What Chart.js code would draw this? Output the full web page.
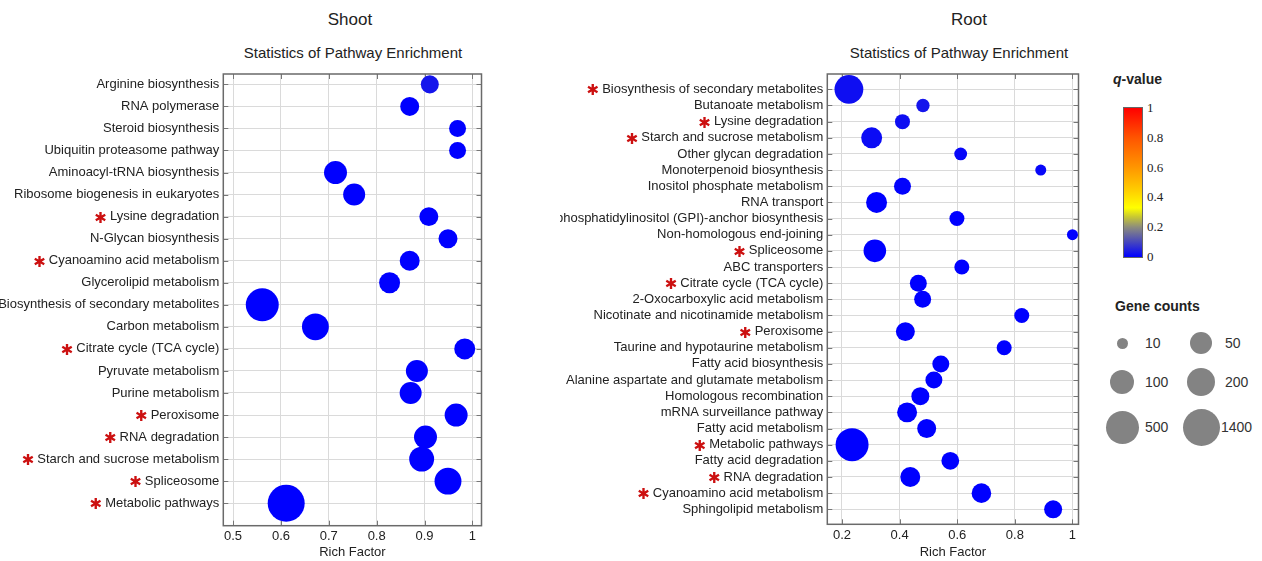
<!DOCTYPE html>
<html>
<head>
<meta charset="utf-8">
<script src="https://cdn.jsdelivr.net/npm/chart.js"></script>
<style>
    body { margin: 0; width: 1262px; height: 561px; background: #fff; position: relative; overflow: hidden;
           font-family: Arial, "Liberation Sans", sans-serif; color: #222; }
    .abs { position: absolute; }
    .title { font-size: 17px; width: 400px; text-align: center; line-height: 20px; }
    .subtitle { font-size: 15px; width: 400px; text-align: center; line-height: 18px; }
    .legendHead { font-size: 14px; font-weight: bold; line-height: 18px; }
    .qTick { font-family: "Times New Roman", "Liberation Serif", serif; font-size: 13px; line-height: 14px; }
    .countLabel { font-size: 14px; line-height: 18px; color: #333; }
    canvas { position: absolute; top: 0; }
</style>
</head>
<body>
<div class="abs title" style="left:150px;top:10px">Shoot</div>
<div class="abs subtitle" style="left:153px;top:44px">Statistics of Pathway Enrichment</div>
<div class="abs title" style="left:769px;top:10px">Root</div>
<div class="abs subtitle" style="left:759px;top:44px">Statistics of Pathway Enrichment</div>

<canvas id="shootChart" width="500" height="561" style="left:0"></canvas>
<canvas id="rootChart" width="535" height="561" style="left:560px"></canvas>

<div class="abs legendHead" style="left:1113px;top:70px"><i>q</i>-value</div>
<div id="colorbar" class="abs" style="left:1123px;top:107px;width:18px;height:149px;border:1px solid #666"></div>
<div class="abs legendHead" style="left:1115px;top:297px">Gene counts</div>
<div id="countLegend"></div>

<script>
// ---- Shoot data ----
const shootPathways = [
    'Arginine biosynthesis', 'RNA polymerase', 'Steroid biosynthesis', 'Ubiquitin proteasome pathway',
    'Aminoacyl-tRNA biosynthesis', 'Ribosome biogenesis in eukaryotes', 'Lysine degradation',
    'N-Glycan biosynthesis', 'Cyanoamino acid metabolism', 'Glycerolipid metabolism',
    'Biosynthesis of secondary metabolites', 'Carbon metabolism', 'Citrate cycle (TCA cycle)',
    'Pyruvate metabolism', 'Purine metabolism', 'Peroxisome', 'RNA degradation',
    'Starch and sucrose metabolism', 'Spliceosome', 'Metabolic pathways'
];
const shootRichFactor = [0.911, 0.869, 0.969, 0.969, 0.714, 0.753, 0.909, 0.949, 0.869, 0.827,
                         0.561, 0.672, 0.984, 0.884, 0.871, 0.966, 0.902, 0.894, 0.949, 0.611];
const shootGeneCounts = [28, 32, 24, 24, 71, 50, 32, 32, 37, 43, 500, 156, 43, 50, 50, 71, 71, 116, 156, 1400];
const shootQValues = [0.03, 0, 0, 0, 0, 0, 0, 0, 0, 0, 0, 0, 0, 0, 0, 0, 0, 0, 0, 0];
const shootStarred = ['Lysine degradation', 'Cyanoamino acid metabolism', 'Citrate cycle (TCA cycle)',
                      'Peroxisome', 'RNA degradation', 'Starch and sucrose metabolism', 'Spliceosome',
                      'Metabolic pathways'];
const shootXTicks = [0.5, 0.6, 0.7, 0.8, 0.9, 1];

// ---- Root data ----
const rootPathways = [
    'Biosynthesis of secondary metabolites', 'Butanoate metabolism', 'Lysine degradation',
    'Starch and sucrose metabolism', 'Other glycan degradation', 'Monoterpenoid biosynthesis',
    'Inositol phosphate metabolism', 'RNA transport', 'Glycosylphosphatidylinositol (GPI)-anchor biosynthesis',
    'Non-homologous end-joining', 'Spliceosome', 'ABC transporters', 'Citrate cycle (TCA cycle)',
    '2-Oxocarboxylic acid metabolism', 'Nicotinate and nicotinamide metabolism', 'Peroxisome',
    'Taurine and hypotaurine metabolism', 'Fatty acid biosynthesis', 'Alanine aspartate and glutamate metabolism',
    'Homologous recombination', 'mRNA surveillance pathway', 'Fatty acid metabolism', 'Metabolic pathways',
    'Fatty acid degradation', 'RNA degradation', 'Cyanoamino acid metabolism', 'Sphingolipid metabolism'
];
const rootRichFactor = [0.224, 0.481, 0.410, 0.303, 0.612, 0.890, 0.410, 0.320, 0.599, 1.0, 0.314, 0.616,
                        0.465, 0.480, 0.824, 0.420, 0.763, 0.543, 0.519, 0.472, 0.426, 0.494, 0.235,
                        0.576, 0.437, 0.684, 0.933];
const rootGeneCounts = [213, 14, 18, 43, 13, 10, 24, 43, 18, 10, 62, 18, 24, 24, 18, 32, 18, 24, 24, 28,
                        37, 32, 500, 27, 37, 35, 28];
const rootQValues = [0.02, 0.03, 0.02, 0.015, 0.01, 0.01, 0.005, 0, 0, 0, 0, 0, 0, 0, 0, 0, 0, 0, 0, 0,
                     0, 0, 0, 0, 0, 0, 0];
const rootStarred = ['Biosynthesis of secondary metabolites', 'Lysine degradation', 'Starch and sucrose metabolism',
                     'Spliceosome', 'Citrate cycle (TCA cycle)', 'Peroxisome', 'Metabolic pathways',
                     'RNA degradation', 'Cyanoamino acid metabolism'];
const rootXTicks = [0.2, 0.4, 0.6, 0.8, 1];

// ---- Legends ----
const legendCounts = [10, 50, 100, 200, 500, 1400];
const qTicks = [0, 0.2, 0.4, 0.6, 0.8, 1];

// size scale: bubble diameter (px) at each legend count, log-interpolated between
const sizeKnots = [11, 22, 24, 28.5, 33, 37];
// colour scale for q-value
const qStops = [[0, [0, 0, 255]], [0.2, [140, 140, 125]], [0.27, [200, 200, 50]], [0.33, [255, 255, 0]],
                [0.45, [255, 205, 0]], [0.6, [255, 150, 0]], [0.8, [255, 85, 0]], [1, [255, 0, 0]]];

const FONT = 'Arial, "Liberation Sans", sans-serif';
Chart.defaults.font.family = FONT;
Chart.defaults.color = '#222';

function sizeFor(count) {
    const lc = Math.log(count);
    const k = legendCounts.map(Math.log);
    if (lc <= k[0]) return sizeKnots[0];
    for (let i = 1; i < k.length; i++) {
        if (lc <= k[i]) {
            const t = (lc - k[i - 1]) / (k[i] - k[i - 1]);
            return sizeKnots[i - 1] + t * (sizeKnots[i] - sizeKnots[i - 1]);
        }
    }
    return sizeKnots[sizeKnots.length - 1];
}

function colorFor(q) {
    for (let i = 1; i < qStops.length; i++) {
        if (q <= qStops[i][0]) {
            const [q0, c0] = qStops[i - 1], [q1, c1] = qStops[i];
            const t = (q - q0) / (q1 - q0);
            const c = c0.map((v, j) => Math.round(v + t * (c1[j] - v)));
            return `rgb(${c[0]},${c[1]},${c[2]})`;
        }
    }
    return 'rgb(255,0,0)';
}

// frame, inner tick marks and red asterisks next to the pathway names
const frameAndStars = {
    id: 'frameAndStars',
    beforeDatasetsDraw(chart) {
        const { ctx, chartArea: a, scales: { x, y } } = chart;
        ctx.save();
        ctx.strokeStyle = '#777';
        ctx.lineWidth = 1;
        ctx.beginPath();
        y.ticks.forEach(t => {
            const py = Math.round(y.getPixelForValue(t.value)) + 0.5;
            ctx.moveTo(a.left, py); ctx.lineTo(a.left + 5, py);
            ctx.moveTo(a.right - 5, py); ctx.lineTo(a.right, py);
        });
        x.ticks.forEach(t => {
            const px = Math.round(x.getPixelForValue(t.value)) + 0.5;
            ctx.moveTo(px, a.bottom); ctx.lineTo(px, a.bottom - 5);
            ctx.moveTo(px, a.top); ctx.lineTo(px, a.top + 5);
        });
        ctx.stroke();
        ctx.lineWidth = 1.5;
        ctx.strokeStyle = '#6a6a6a';
        ctx.strokeRect(a.left, a.top, a.right - a.left, a.bottom - a.top);
        ctx.restore();
    },
    afterDraw(chart, args, opts) {
        const { ctx, scales: { y } } = chart;
        ctx.save();
        y.ticks.forEach(t => {
            const name = opts.names[t.value];
            if (!opts.starred.includes(name)) return;
            ctx.font = '13px ' + FONT;
            const w = ctx.measureText(name).width;
            const xr = y.right - 4 - w - 3;
            ctx.font = '15px "DejaVu Sans", sans-serif';
            ctx.fillStyle = '#cc1010';
            ctx.textAlign = 'right';
            ctx.textBaseline = 'middle';
            ctx.fillText('\u2731', xr, y.getPixelForValue(t.value) + 2);
        });
        ctx.restore();
    }
};

function makeChart(id, cfg) {
    const points = cfg.names.map((n, i) => ({ x: cfg.rich[i], y: i, r: sizeFor(cfg.counts[i]) / 2 }));
    return new Chart(document.getElementById(id), {
        type: 'bubble',
        data: {
            datasets: [{
                data: points,
                backgroundColor: cfg.q.map(colorFor),
                borderWidth: 0
            }]
        },
        options: {
            responsive: false,
            animation: false,
            layout: { padding: { top: cfg.top, right: cfg.padRight, left: 0, bottom: 0 } },
            plugins: {
                legend: { display: false },
                tooltip: { enabled: false },
                frameAndStars: { names: cfg.names, starred: cfg.starred }
            },
            scales: {
                x: {
                    type: 'linear',
                    min: cfg.xMin,
                    max: cfg.xMax,
                    afterBuildTicks: s => { s.ticks = cfg.xTicks.map(v => ({ value: v })); },
                    afterFit: s => { s.height = cfg.xAxisHeight; },
                    ticks: { font: { size: 13 }, color: '#222', padding: 3, callback: v => String(v) },
                    grid: { color: '#dadada', drawTicks: false },
                    border: { display: false },
                    title: { display: true, text: 'Rich Factor', font: { size: 13 }, color: '#222',
                             padding: { top: 0, bottom: 1 } }
                },
                y: {
                    type: 'linear',
                    reverse: true,
                    min: cfg.yMin,
                    max: cfg.yMax,
                    afterBuildTicks: s => { s.ticks = cfg.names.map((n, i) => ({ value: i })); },
                    afterFit: s => { s.width = cfg.yAxisWidth; },
                    ticks: { font: { size: 13 }, color: '#222', padding: 4, autoSkip: false,
                             callback: v => cfg.names[v] },
                    grid: { color: '#dadada', drawTicks: false },
                    border: { display: false }
                }
            }
        },
        plugins: [frameAndStars]
    });
}

makeChart('shootChart', {
    names: shootPathways, rich: shootRichFactor, counts: shootGeneCounts, q: shootQValues,
    starred: shootStarred, xTicks: shootXTicks,
    xMin: 0.4796, xMax: 1.019, yMin: -0.47, yMax: 20.02,
    top: 74, padRight: 12.7, yAxisWidth: 223.3, xAxisHeight: 35.3
});

makeChart('rootChart', {
    names: rootPathways, rich: rootRichFactor, counts: rootGeneCounts, q: rootQValues,
    starred: rootStarred, xTicks: rootXTicks,
    xMin: 0.149, xMax: 1.021, yMin: -0.95, yMax: 26.93,
    top: 74, padRight: 4.3, yAxisWidth: 267.3, xAxisHeight: 36.7
});

// colour bar
const bar = document.getElementById('colorbar');
bar.style.background = 'linear-gradient(to top, ' +
    qStops.map(s => `rgb(${s[1].join(',')}) ${s[0] * 100}%`).join(', ') + ')';
qTicks.forEach(q => {
    const d = document.createElement('div');
    d.className = 'abs qTick';
    d.style.left = '1147px';
    d.style.top = (257 - q * 149 - 7) + 'px';
    d.textContent = String(q);
    document.body.appendChild(d);
});

// gene count circles
const rowY = [343, 382, 427];
const legendBox = document.getElementById('countLegend');
legendCounts.forEach((c, i) => {
    const col = i % 2, row = Math.floor(i / 2);
    const cx = 1122 + col * 79, cy = rowY[row];
    const dia = sizeFor(c);
    const dot = document.createElement('div');
    dot.className = 'abs';
    dot.style.cssText = `left:${cx - dia / 2}px;top:${cy - dia / 2}px;width:${dia}px;height:${dia}px;` +
        'border-radius:50%;background:#838383';
    legendBox.appendChild(dot);
    const lab = document.createElement('div');
    lab.className = 'abs countLabel';
    lab.style.left = (col === 0 ? 1145 : (c >= 1000 ? 1221 : 1225)) + 'px';
    lab.style.top = (cy - 9) + 'px';
    lab.textContent = String(c);
    legendBox.appendChild(lab);
});
</script>
</body>
</html>
